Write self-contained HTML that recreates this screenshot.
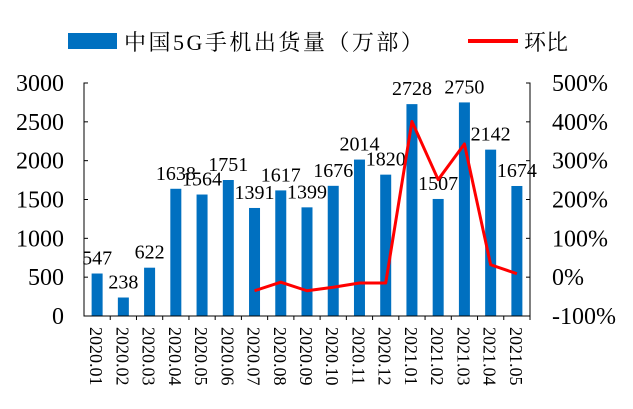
<!DOCTYPE html>
<html><head><meta charset="utf-8"><style>
body{margin:0;background:#fff}
svg text{font-family:"Liberation Serif","Noto Serif CJK SC",serif;fill:#000}
</style></head><body>
<svg id="c" width="633" height="404">
<g>
<rect x="68" y="33" width="49" height="16" fill="#0070c0"/>
<text x="124" y="50" font-size="22" letter-spacing="2.5">中国5G手机出货量（万部）</text>
<line x1="468" y1="41" x2="518" y2="41" stroke="#f00" stroke-width="4"/>
<text x="524" y="50" font-size="22">环比</text>
</g>
</svg>
<script>
const categories=["2020.01","2020.02","2020.03","2020.04","2020.05","2020.06","2020.07","2020.08","2020.09","2020.10","2020.11","2020.12","2021.01","2021.02","2021.03","2021.04","2021.05"];
const shipments=[547,238,622,1638,1564,1751,1391,1617,1399,1676,2014,1820,2728,1507,2750,2142,1674];
const momPct=[null,null,null,null,null,null,-35,-13,-35,-26,-15,-15,401,251,343,32,9];
const leftTicks=[0,500,1000,1500,2000,2500,3000];
const rightTicks=[-100,0,100,200,300,400,500];
const svg=document.getElementById('c');const NS='http://www.w3.org/2000/svg';
const X0=84,X1=530,Y0=316,Y1=83;
const slot=(X1-X0)/categories.length;
const xc=i=>X0+slot*(i+0.5);
const yL=v=>Y0-(v/3000)*(Y0-Y1);
const yR=v=>Y0-((v+100)/600)*(Y0-Y1);
function mk(t,a){const e=document.createElementNS(NS,t);for(const k in a)e.setAttribute(k,a[k]);svg.appendChild(e);return e;}
shipments.forEach((v,i)=>{
const r=mk('rect',{x:xc(i)-5.5,y:yL(v),width:11,height:Y0-yL(v),fill:'#0070c0'});


const t=mk('text',{x:xc(i),y:yL(v)-9,'font-size':20,'text-anchor':'middle'});t.textContent=v;


});
let pts=[];momPct.forEach((v,i)=>{if(v!==null)pts.push(xc(i)+','+yR(v));});
const pl=mk('polyline',{points:pts.join(' '),fill:'none',stroke:'#f00','stroke-width':3,'stroke-linejoin':'round'});


const ax=mk('path',{d:`M${X0+4},${Y1}H${X0}V${Y0}H${X1}V${Y1}H${X1-4}`,fill:'none',stroke:'#000','stroke-width':1});


leftTicks.forEach(v=>{
mk('line',{x1:X0,x2:X0+4,y1:yL(v),y2:yL(v),stroke:'#000'});
const t=mk('text',{x:64,y:yL(v)+8,'font-size':24,'text-anchor':'end'});t.textContent=v;


});
rightTicks.forEach(v=>{
mk('line',{x1:X1-4,x2:X1,y1:yR(v),y2:yR(v),stroke:'#000'});
const t=mk('text',{x:552,y:yR(v)+8,'font-size':24});t.textContent=v+'%';


});
categories.forEach((c,i)=>{
mk('line',{x1:X0+slot*(i+1),x2:X0+slot*(i+1),y1:Y0,y2:Y0+4,stroke:'#000'});
const t=mk('text',{x:0,y:0,'font-size':18,transform:`translate(${xc(i)-7},${Y0+11}) rotate(90)`});t.textContent=c;


});
</script>
</body></html>
